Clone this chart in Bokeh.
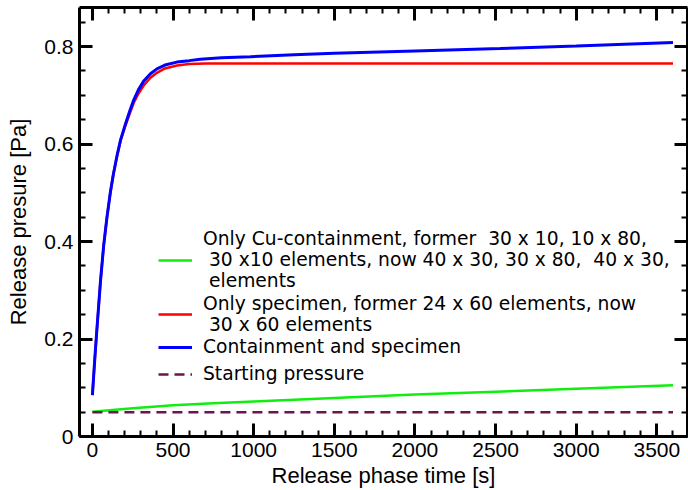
from bokeh.plotting import figure
from bokeh.models import (Legend, LegendItem, LinearAxis, SingleIntervalTicker,
                          CustomJSTickFormatter, Range1d)
from bokeh.embed import file_html
from bokeh.resources import INLINE

# ---- data ----
t_blue = [0, 15, 29, 50, 70, 90, 111, 130, 152, 175, 204, 230, 256, 285, 318, 360,
          400, 450, 524, 600, 669, 800, 979, 1250, 1500, 2000, 2527, 3000, 3600]
p_blue = [0.085, 0.160, 0.225, 0.318, 0.392, 0.449, 0.500, 0.538, 0.575, 0.609, 0.640,
          0.666, 0.690, 0.711, 0.729, 0.744, 0.754, 0.762, 0.768, 0.771, 0.774, 0.777,
          0.779, 0.783, 0.786, 0.791, 0.796, 0.801, 0.808]

t_red = [0, 15, 29, 50, 70, 90, 111, 130, 152, 175, 204, 230, 256, 285, 318, 360,
         400, 450, 524, 600, 700, 800, 1000, 1500, 2000, 2500, 3000, 3600]
p_red = [0.085, 0.160, 0.225, 0.318, 0.392, 0.449, 0.500, 0.538, 0.574, 0.607, 0.637,
         0.661, 0.684, 0.703, 0.720, 0.736, 0.746, 0.755, 0.761, 0.764, 0.765, 0.765,
         0.765, 0.765, 0.765, 0.765, 0.765, 0.765]

t_green = [0, 250, 500, 750, 1000, 1500, 2000, 2500, 3000, 3600]
p_green = [0.051, 0.058, 0.064, 0.068, 0.072, 0.079, 0.086, 0.092, 0.098, 0.105]

t_start = [0, 3600]
p_start = [0.05, 0.05]

x_major = 500
y_major = 0.2

label_green = ("Only Cu-containment, former \u00a030 x 10, 10 x 80,\n"
               "\u00a030 x10 elements, now 40 x 30, 30 x 80, \u00a040 x 30,\n"
               "\u00a0elements")
label_red = "Only specimen, former 24 x 60 elements, now\n\u00a030 x 60 elements"
label_blue = "Containment and specimen"
label_start = "Starting pressure"

FONT = "Liberation Sans"
LEGEND_FONT = "DejaVu Sans"

p = figure(width=688, height=490, output_backend="svg", toolbar_location=None,
           x_range=Range1d(-80, 3690), y_range=Range1d(0, 0.88),
           min_border_left=79, min_border_right=1, min_border_top=7,
           min_border_bottom=53)
p.grid.visible = False
p.outline_line_color = None
p.background_fill_color = "white"

xt = SingleIntervalTicker(interval=x_major, num_minor_ticks=5)
yt = SingleIntervalTicker(interval=y_major, num_minor_ticks=4)
yfmt = CustomJSTickFormatter(code="return tick == 0 ? '0' : tick.toFixed(1);")
blankfmt = CustomJSTickFormatter(code="return '';")


def style_axis(ax, show_labels):
    ax.axis_line_width = 3
    ax.axis_line_color = "black"
    ax.major_tick_in = 13
    ax.major_tick_out = 0
    ax.minor_tick_in = 6
    ax.minor_tick_out = 0
    ax.major_tick_line_width = 3
    ax.minor_tick_line_width = 2
    ax.major_tick_line_color = "black"
    ax.minor_tick_line_color = "black"
    if show_labels:
        ax.major_label_text_font = FONT
        ax.major_label_text_font_size = "21px"
        ax.major_label_text_color = "black"
        ax.axis_label_text_font = FONT
        ax.axis_label_text_font_size = "22px"
        ax.axis_label_text_font_style = "normal"
        ax.axis_label_text_color = "black"
    else:
        ax.formatter = blankfmt
        ax.major_label_text_font_size = "1px"
        ax.major_label_standoff = 0


xa = p.xaxis[0]
xa.ticker = xt
xa.axis_label = "Release phase time [s]"
xa.major_label_standoff = 6
xa.axis_label_standoff = 3
style_axis(xa, True)

ya = p.yaxis[0]
ya.ticker = yt
ya.formatter = yfmt
ya.axis_label = "Release presure [Pa]"
ya.major_label_standoff = 6
ya.axis_label_standoff = 10
style_axis(ya, True)

top = LinearAxis(ticker=xt)
style_axis(top, False)
p.add_layout(top, "above")
right = LinearAxis(ticker=yt)
style_axis(right, False)
p.add_layout(right, "right")

r_green = p.line(t_green, p_green, line_color="#10ee10", line_width=2.5)
r_start = p.line(t_start, p_start, line_color="#6b1450", line_width=2.5,
                 line_dash="10 6")
r_red = p.line(t_red, p_red, line_color="#ff0000", line_width=2.5)
r_blue = p.line(t_blue, p_blue, line_color="#0000ff", line_width=3)


def add_legend(label, renderer, loc_y):
    lg = Legend(items=[LegendItem(label=label, renderers=[renderer])],
                location=(79, loc_y), padding=0, margin=0, spacing=0,
                border_line_color=None, background_fill_alpha=0,
                glyph_width=34, glyph_height=18, label_standoff=11,
                label_text_font=LEGEND_FONT, label_text_font_size="18.7px",
                label_text_color="black", label_height=18)
    p.add_layout(lg, "center")


add_legend(label_green, r_green, 144.6)
add_legend(label_red, r_red, 101)
add_legend(label_blue, r_blue, 79)
add_legend(label_start, r_start, 52)

open("out.html", "w").write(file_html(p, INLINE))
